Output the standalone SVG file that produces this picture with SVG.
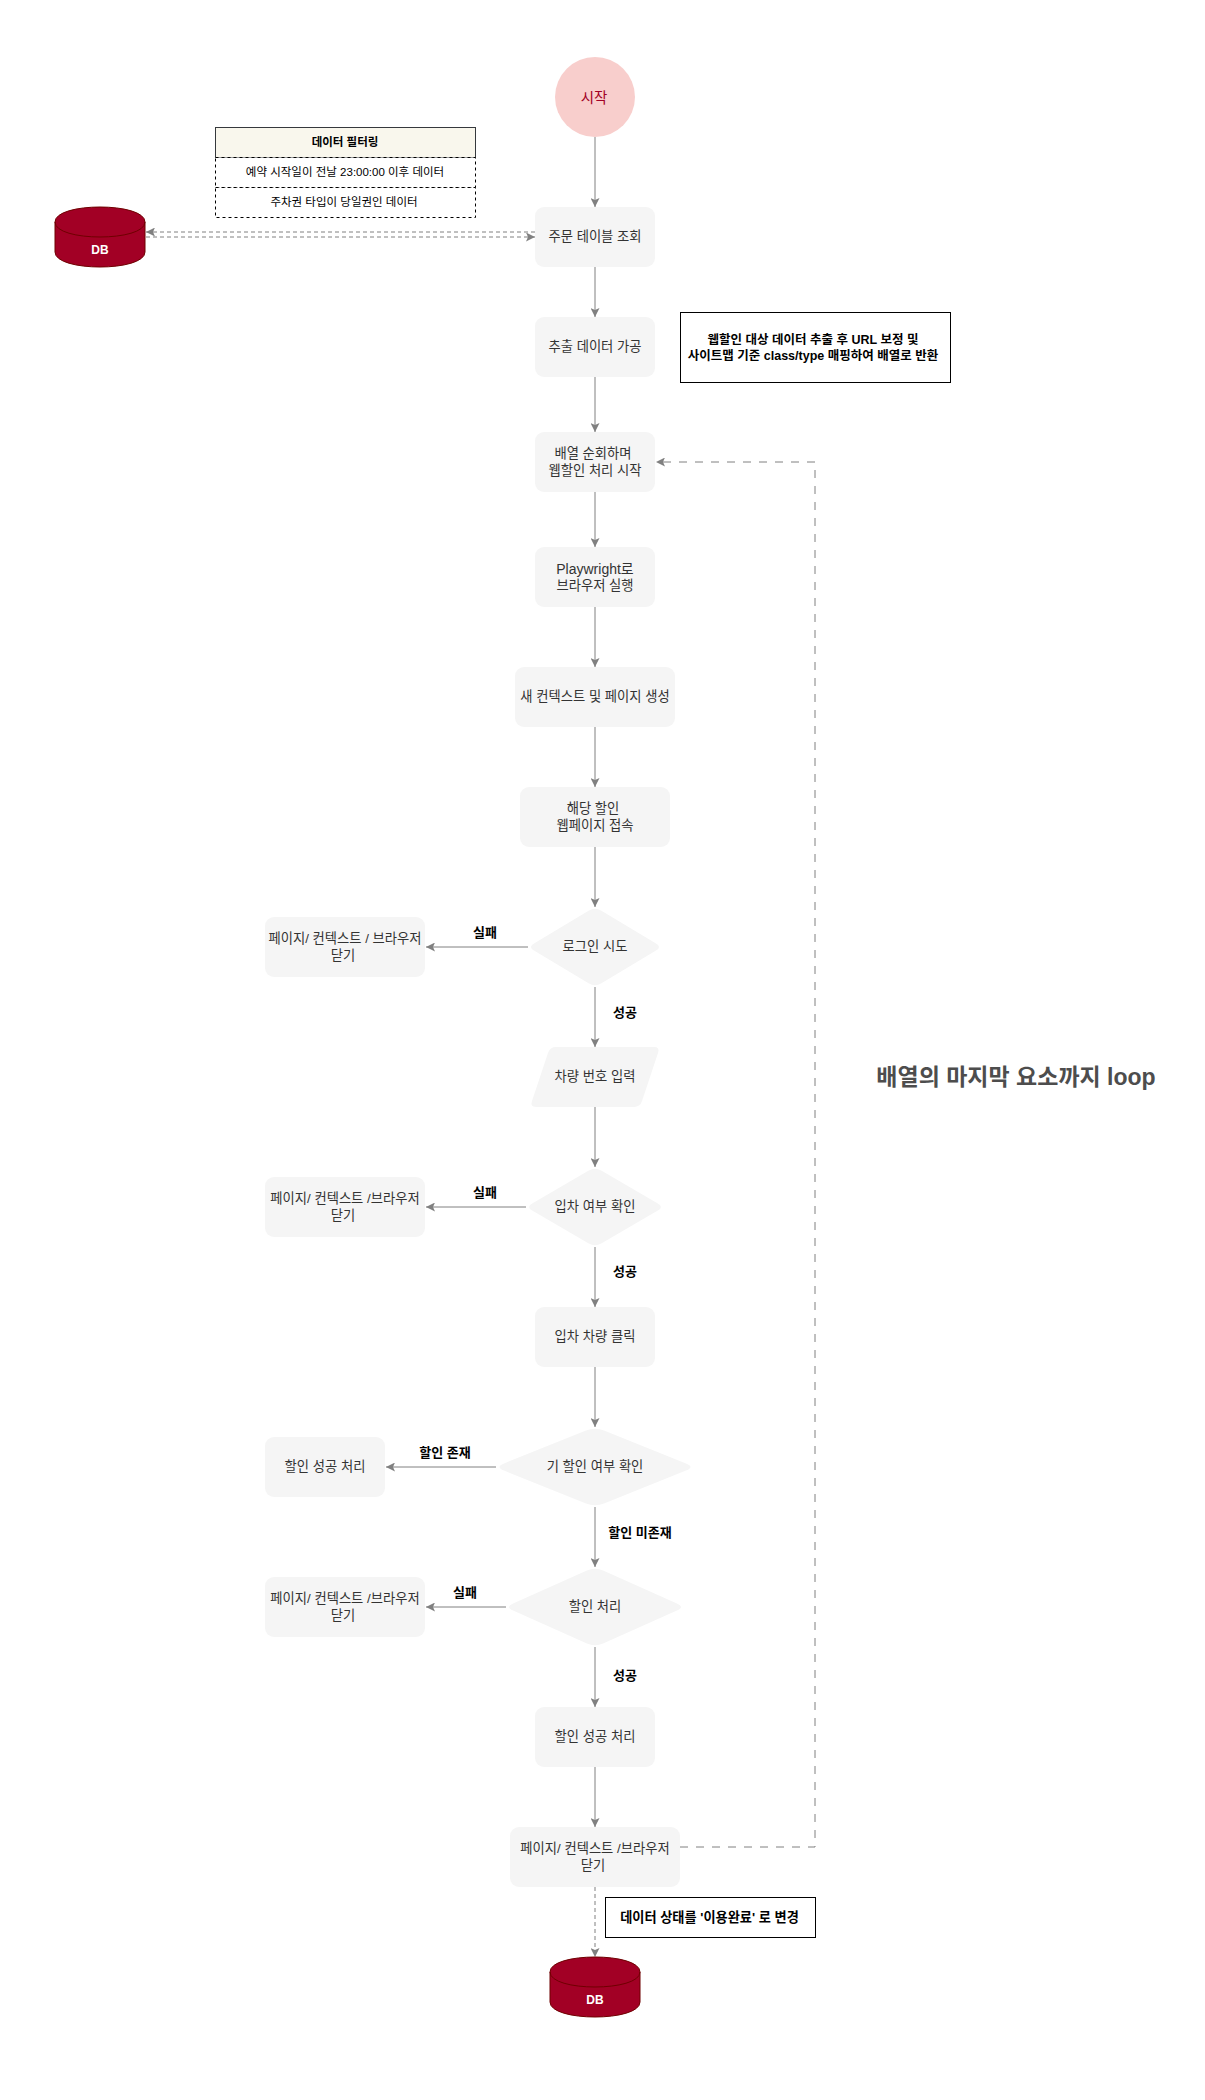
<svg xmlns="http://www.w3.org/2000/svg" width="1205" height="2100" viewBox="0 0 1205 2100">
<style>
text{font-family:"Liberation Sans","Noto Sans CJK KR",sans-serif;text-anchor:middle;dominant-baseline:central}
.s{fill:#f5f5f5;stroke:none}
.t{font-size:13.3px;fill:#333333}
.l{font-size:13px;font-weight:bold;fill:#000}
.n{font-size:12.500px;font-weight:bold;fill:#000}
.r{font-size:11.500px;fill:#000}
.box{fill:#fff;stroke:#000;stroke-width:1}
.db{fill:#a20025;stroke:#6f0000;stroke-width:1}
.dbt{font-size:12px;font-weight:bold;fill:#fff}
.c{fill:none;stroke:#808080;stroke-width:1}
.a{marker-end:url(#arr)}
.d3{stroke-dasharray:4 3}
.d8{stroke-dasharray:8 8}
</style>
<defs>
<marker id="arr" markerUnits="userSpaceOnUse" viewBox="0 0 9 9" markerWidth="9" markerHeight="9" refX="9" refY="4.5" orient="auto"><path d="M9 4.5L0 0L2 4.5L0 9Z" fill="#808080"/></marker>
</defs>
<rect width="1205" height="2100" fill="#ffffff"/>
<g id="connectors">
<path class="c a" d="M595 137V207"/>
<path class="c a" d="M595 267V317"/>
<path class="c a" d="M595 377V432"/>
<path class="c a" d="M595 492V547"/>
<path class="c a" d="M595 607V667"/>
<path class="c a" d="M595 727V787"/>
<path class="c a" d="M595 847V907"/>
<path class="c a" d="M528 947H426"/>
<path class="c a" d="M595 987V1047"/>
<path class="c a" d="M595 1107V1167"/>
<path class="c a" d="M526 1207H426"/>
<path class="c a" d="M595 1247V1307"/>
<path class="c a" d="M595 1367V1427"/>
<path class="c a" d="M496 1467H386"/>
<path class="c a" d="M595 1507V1567"/>
<path class="c a" d="M506 1607H426"/>
<path class="c a" d="M595 1647V1707"/>
<path class="c a" d="M595 1767V1827"/>
<path class="c a d3" d="M535 232H146"/>
<path class="c a d3" d="M146 237H535"/>
<path class="c a d8" d="M680 1847H815V462H656"/>
<path class="c a d3" d="M595 1887V1957"/>
</g>
<g id="start"><circle cx="595" cy="97" r="40" fill="#f8cecc"/><text x="594" y="98" font-size="14.500" fill="#a20025">시작</text></g>
<g id="filter-table">
<rect x="215.500" y="127.500" width="260" height="30" fill="#f9f7ed" stroke="#36393d"/>
<rect x="215.500" y="157.500" width="260" height="30" fill="#fff" stroke="#000" stroke-dasharray="3 3"/>
<rect x="215.500" y="187.500" width="260" height="30" fill="#fff" stroke="#000" stroke-dasharray="3 3"/>
<text class="r" x="345" y="142" font-weight="bold">데이터 필터링</text>
<text class="r" x="345" y="172">예약 시작일이 전날 23:00:00 이후 데이터</text>
<text class="r" x="344" y="202">주차권 타입이 당일권인 데이터</text>
</g>
<g id="db-top"><path class="db" d="M55 222C55 202 145 202 145 222V252C145 272 55 272 55 252Z"/><path d="M55 222C55 242 145 242 145 222" fill="none" stroke="#6f0000"/><text class="dbt" x="100" y="250">DB</text></g>
<g id="orders"><rect class="s" x="535" y="207" width="120" height="60" rx="9"/><text class="t" x="595" y="236.500">주문 테이블 조회</text></g>
<g id="process"><rect class="s" x="535" y="317" width="120" height="60" rx="9"/><text class="t" x="595" y="346.500">추출 데이터 가공</text></g>
<g id="note-1"><rect class="box" x="680.500" y="312.500" width="270" height="70"/><text class="n" x="813" y="339.500">웹할인 대상 데이터 추출 후 URL 보정 및</text><text class="n" x="813" y="355.500">사이트맵 기준 class/type 매핑하여 배열로 반환</text></g>
<g id="iterate"><rect class="s" x="535" y="432" width="120" height="60" rx="9"/><text class="t" x="593" y="453.500">배열 순회하며</text><text class="t" x="595" y="470.500">웹할인 처리 시작</text></g>
<g id="browser"><rect class="s" x="535" y="547" width="120" height="60" rx="9"/><text class="t" x="595" y="568.500" style="font-size:14px">Playwright로</text><text class="t" x="595" y="585">브라우저 실행</text></g>
<g id="context"><rect class="s" x="515" y="667" width="160" height="60" rx="9"/><text class="t" x="595" y="696.500">새 컨텍스트 및 페이지 생성</text></g>
<g id="webpage"><rect class="s" x="520" y="787" width="150" height="60" rx="9"/><text class="t" x="593" y="808">해당 할인</text><text class="t" x="595" y="825">웹페이지 접속</text></g>
<g id="login"><path class="s" d="M601 910.600L656 943.400Q662 947 656 950.600L601 983.400Q595 987 589 983.400L534 950.600Q528 947 534 943.400L589 910.600Q595 907 601 910.600Z"/><text class="t" x="595" y="946.500">로그인 시도</text></g>
<g id="close-1"><rect class="s" x="265" y="917" width="160" height="60" rx="9"/><text class="t" x="345" y="938.500">페이지/ 컨텍스트 / 브라우저</text><text class="t" x="343" y="955.500">닫기</text></g>
<g id="car-number"><path class="s" d="M556 1047L654 1047Q660 1047 658.100 1052.700L641.900 1101.300Q640 1107 634 1107L536 1107Q530 1107 531.900 1101.300L548.100 1052.700Q550 1047 556 1047Z"/><text class="t" x="595" y="1076.500">차량 번호 입력</text></g>
<g id="entry"><path class="s" d="M601.200 1170.600L657.800 1203.400Q664 1207 657.800 1210.600L601.200 1243.400Q595 1247 588.800 1243.400L532.200 1210.600Q526 1207 532.200 1203.400L588.800 1170.600Q595 1167 601.200 1170.600Z"/><text class="t" x="595" y="1206.500">입차 여부 확인</text></g>
<g id="close-2"><rect class="s" x="265" y="1177" width="160" height="60" rx="9"/><text class="t" x="345" y="1198.500">페이지/ 컨텍스트 /브라우저</text><text class="t" x="343" y="1215.500">닫기</text></g>
<g id="click"><rect class="s" x="535" y="1307" width="120" height="60" rx="9"/><text class="t" x="595" y="1336.500">입차 차량 클릭</text></g>
<g id="discount-check"><path class="s" d="M604 1430.600L686 1463.400Q695 1467 686 1470.600L604 1503.400Q595 1507 586 1503.400L504 1470.600Q495 1467 504 1463.400L586 1430.600Q595 1427 604 1430.600Z"/><text class="t" x="595" y="1466.500">기 할인 여부 확인</text></g>
<g id="success-1"><rect class="s" x="265" y="1437" width="120" height="60" rx="9"/><text class="t" x="325" y="1466.500">할인 성공 처리</text></g>
<g id="discount"><path class="s" d="M603.100 1570.600L676.900 1603.400Q685 1607 676.900 1610.600L603.100 1643.400Q595 1647 586.900 1643.400L513.100 1610.600Q505 1607 513.100 1603.400L586.900 1570.600Q595 1567 603.100 1570.600Z"/><text class="t" x="595" y="1606.500">할인 처리</text></g>
<g id="close-3"><rect class="s" x="265" y="1577" width="160" height="60" rx="9"/><text class="t" x="345" y="1598.500">페이지/ 컨텍스트 /브라우저</text><text class="t" x="343" y="1615.500">닫기</text></g>
<g id="success-2"><rect class="s" x="535" y="1707" width="120" height="60" rx="9"/><text class="t" x="595" y="1736.500">할인 성공 처리</text></g>
<g id="close-4"><rect class="s" x="510" y="1827" width="170" height="60" rx="9"/><text class="t" x="595" y="1848.500">페이지/ 컨텍스트 /브라우저</text><text class="t" x="593" y="1865.500">닫기</text></g>
<g id="note-2"><rect class="box" x="605.500" y="1897.500" width="210" height="40"/><text class="n" x="709.500" y="1917" style="font-size:13.200px">데이터 상태를 '이용완료' 로 변경</text></g>
<g id="db-bottom"><path class="db" d="M550 1972C550 1952 640 1952 640 1972V2002C640 2022 550 2022 550 2002Z"/><path d="M550 1972C550 1992 640 1992 640 1972" fill="none" stroke="#6f0000"/><text class="dbt" x="595" y="2000">DB</text></g>
<g id="labels">
<text class="l" x="485" y="932">실패</text>
<text class="l" x="485" y="1192">실패</text>
<text class="l" x="465" y="1592">실패</text>
<text class="l" x="625" y="1012">성공</text>
<text class="l" x="625" y="1271">성공</text>
<text class="l" x="625" y="1675">성공</text>
<text class="l" x="445" y="1452">할인 존재</text>
<text class="l" x="640" y="1532">할인 미존재</text>
<text x="1016" y="1077" font-size="23" font-weight="bold" fill="#4d4d4d">배열의 마지막 요소까지 loop</text>
</g>
</svg>
